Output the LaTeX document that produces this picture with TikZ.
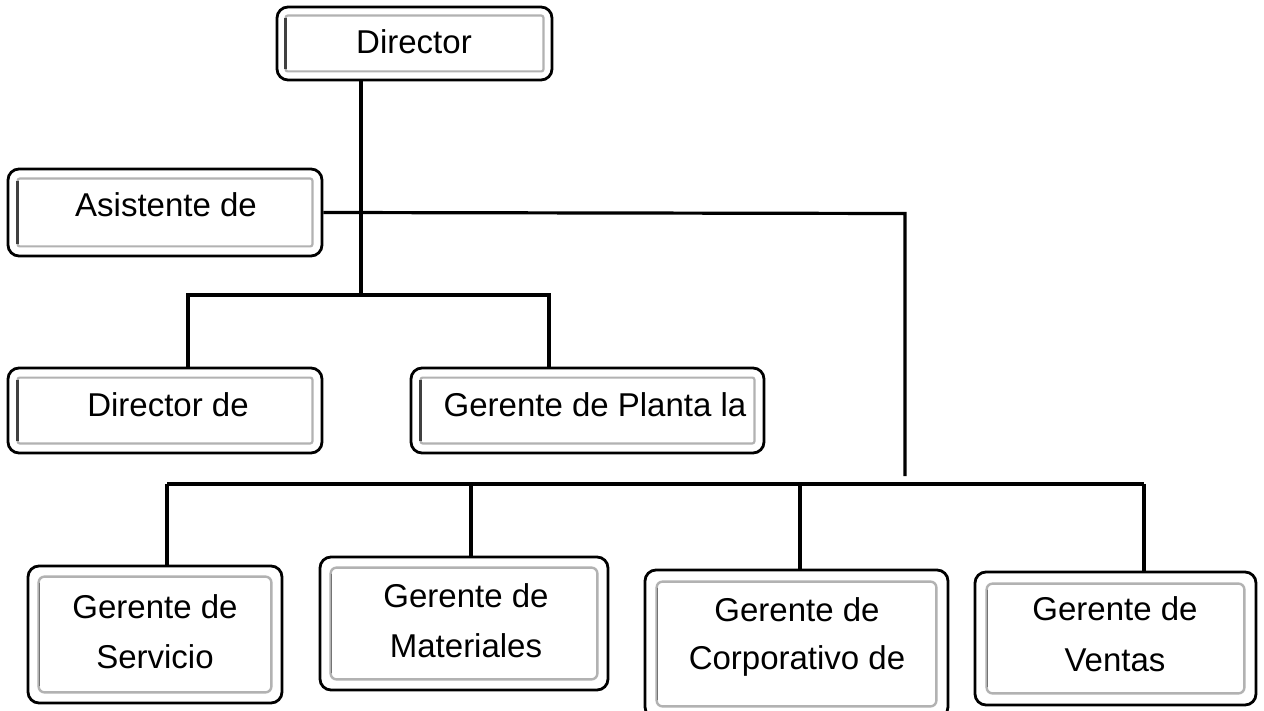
\documentclass[tikz,border=0pt]{standalone}
\usepackage{fontspec}
\setmainfont{Liberation Sans}
\begin{document}
\begin{tikzpicture}[x=1pt,y=-1pt,
  box/.style={draw=black, line width=2.8pt, rounded corners=11pt, fill=white, inner sep=0pt},
  txt/.style={font=\fontsize{33}{40}\selectfont, inner sep=0pt, anchor=center},
  link/.style={draw=black, line width=3.2pt}]
\useasboundingbox (0,0) rectangle (1264,711);
% boxes: center, width, height
\node[box, minimum width=275pt, minimum height=73pt] (dir) at (414.5,43.5) {};
\node[box, minimum width=314pt, minimum height=87pt] (asis) at (165,212.5) {};
\node[box, minimum width=314pt, minimum height=85pt] (dirde) at (165,410.5) {};
\node[box, minimum width=353pt, minimum height=85pt] (planta) at (587.5,410.5) {};
\node[box, minimum width=254pt, minimum height=137pt] (serv) at (155,634.5) {};
\node[box, minimum width=288pt, minimum height=133pt] (mat) at (464,623.5) {};
\node[box, minimum width=303pt, minimum height=148pt] (corp) at (796.5,644) {};
\node[box, minimum width=281pt, minimum height=133pt] (vent) at (1115.5,638.5) {};
% inner frames
\foreach \n/\d in {dir/10,asis/11,dirde/11,planta/11} {
  \draw[black!30, line width=2.2pt, rounded corners=2pt]
    ([shift={(\d pt,-\d pt)}]\n.north west) rectangle ([shift={(-\d pt,\d pt)}]\n.south east);
  \draw[black!75, line width=2.6pt]
    ([shift={(\d pt,-\d pt-2pt)}]\n.north west) -- ([shift={(\d pt,\d pt+2pt)}]\n.south west);
}
\foreach \n/\d in {serv/12,mat/12,corp/13,vent/13} {
  \draw[black!30, line width=2.4pt, rounded corners=6pt]
    ([shift={(\d pt,-\d pt)}]\n.north west) rectangle ([shift={(-\d pt,\d pt)}]\n.south east);
  \draw[black!55, line width=1.6pt, rounded corners=6pt]
    ([shift={(\d pt+1pt,-\d pt-6pt)}]\n.north west) -- ([shift={(\d pt+1pt,\d pt+6pt)}]\n.south west);
}
% texts
\node[txt] (tdir) at (414,42) {Director};
\node[txt] (tasis) at (166,205) {Asistente de};
\node[txt] (tdirde) at (168,405) {Director de};
\node[txt] (tplanta) at (595,405) {Gerente de Planta la};
\node[txt] (tserv1) at (155,607) {Gerente de};
\node[txt] (tserv2) at (155,657) {Servicio};
\node[txt] (tmat1) at (466,596) {Gerente de};
\node[txt] (tmat2) at (466,646) {Materiales};
\node[txt] (tcorp1) at (797,610) {Gerente de};
\node[txt] (tcorp2) at (797,661) {Corporativo de};
\node[txt] (tvent1) at (1115,609) {Gerente de};
\node[txt] (tvent2) at (1115,660) {Ventas};
% connector coordinates
\coordinate (j1) at (361,295);
\coordinate (l1) at (188,295);
\coordinate (r1) at (549,295);
\coordinate (c2) at (905,213.5);
\coordinate (c3) at (905,476);
\coordinate (b1) at (167,484);
\coordinate (b2) at (471,484);
\coordinate (b3) at (800,484);
\coordinate (b4) at (1144,484);
% connectors
\draw[link] (j1 |- dir.south) -- (j1);
\draw[link] (l1 |- dirde.north) -- (l1) -- (r1) -- (r1 |- planta.north);
\draw[link] (asis.east) -- (c2) -- (c3);
\draw[link] (b1) -- (b4);
\draw[link] (b1) -- (b1 |- serv.north);
\draw[link] (b2) -- (b2 |- mat.north);
\draw[link] (b3) -- (b3 |- corp.north);
\draw[link] (b4) -- (b4 |- vent.north);
\end{tikzpicture}
\end{document}
